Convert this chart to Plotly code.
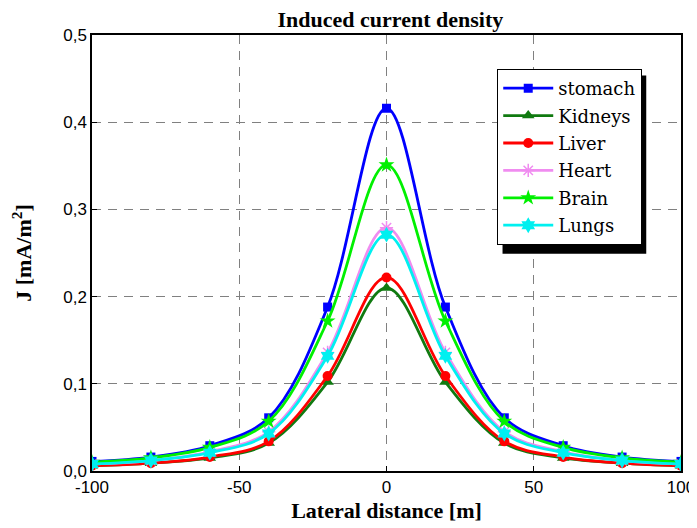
import plotly.graph_objects as go

x_m = [-100, -80, -60, -40, -20, 0, 20, 40, 60, 80, 100]

stomach = [0.011, 0.016, 0.029, 0.061, 0.188, 0.416, 0.188, 0.061, 0.029, 0.016, 0.011]
kidneys = [0.006, 0.009, 0.015, 0.032, 0.102, 0.210, 0.102, 0.032, 0.015, 0.009, 0.006]
liver   = [0.006, 0.009, 0.016, 0.034, 0.109, 0.222, 0.109, 0.034, 0.016, 0.009, 0.006]
heart   = [0.008, 0.012, 0.022, 0.045, 0.136, 0.279, 0.136, 0.045, 0.022, 0.012, 0.008]
brain   = [0.010, 0.015, 0.027, 0.057, 0.172, 0.351, 0.172, 0.057, 0.027, 0.015, 0.010]
lungs   = [0.008, 0.012, 0.021, 0.043, 0.132, 0.271, 0.132, 0.043, 0.021, 0.012, 0.008]

x_tickvals = [-100, -50, 0, 50, 100]
x_ticktext = ["-100", "-50", "0", "50", "100"]
y_tickvals = [0.0, 0.1, 0.2, 0.3, 0.4, 0.5]
y_ticktext = ["0,0", "0,1", "0,2", "0,3", "0,4", "0,5"]

series = [
    ("stomach", stomach, "#0000FF", "square", 9),
    ("Kidneys", kidneys, "#107A10", "triangle-up", 11),
    ("Liver", liver, "#FF0000", "circle", 10),
    ("Heart", heart, "#F08CF0", "asterisk-open", 11),
    ("Brain", brain, "#00F000", "star", 12),
    ("Lungs", lungs, "#00F0F0", "hexagram", 12),
]

SERIF = "Times New Roman, Liberation Serif, serif"
LEGSERIF = "DejaVu Serif"
SANS = "Arial, Liberation Sans, sans-serif"

fig = go.Figure()
for name, vals, col, sym, sz in series:
    mk = dict(symbol=sym, size=sz, color=col)
    if sym == "asterisk-open":
        mk["line"] = dict(color=col, width=1.5)
    fig.add_trace(go.Scatter(
        x=x_m, y=vals, name=name, mode="lines+markers", legendgroup=name,
        line=dict(color=col, width=2.8, shape="spline", smoothing=1.0),
        marker=mk,
    ))

axis_common = dict(
    showline=True, linecolor="black", linewidth=1.5, mirror=True,
    ticks="inside", ticklen=5, tickcolor="black",
    showgrid=True, gridcolor="#808080", griddash="9px,7px", gridwidth=1,
    zeroline=False, automargin=False,
    tickfont=dict(family=SANS, size=17, color="black"),
)

fig.update_xaxes(
    range=[-100, 100], tickvals=x_tickvals, ticktext=x_ticktext,
    title=dict(text="<b>Lateral distance [m]</b>",
               font=dict(family=SERIF, size=22, color="black"),
               standoff=6),
    **axis_common,
)
fig.update_yaxes(
    range=[0, 0.5], tickvals=y_tickvals, ticktext=y_ticktext,
    title=dict(text="<b>J [mA/m<sup>2</sup>]</b>",
               font=dict(family=SERIF, size=22, color="black"),
               standoff=28),
    **axis_common,
)

# legend drop shadow
fig.add_shape(type="rect", xref="paper", yref="paper",
              x0=0.697, x1=0.941, y0=0.498, y1=0.907,
              fillcolor="black", line=dict(width=0), layer="above")

fig.update_layout(
    width=689, height=520,
    margin=dict(l=84, r=16, t=27, b=57),
    font=dict(family=SERIF, color="black"),
    paper_bgcolor="white", plot_bgcolor="white",
    title=dict(text="<b>Induced current density</b>", x=0.555, xanchor="center",
               y=0.978, yanchor="middle",
               font=dict(family=SERIF, size=22, color="black")),
    legend=dict(x=0.688, y=0.922, xanchor="left", yanchor="top",
                bgcolor="white", bordercolor="black", borderwidth=1,
                font=dict(family=LEGSERIF, size=18, color="black"),
                itemwidth=50, tracegroupgap=1),
    showlegend=True,
)

fig.write_html("out.html")
